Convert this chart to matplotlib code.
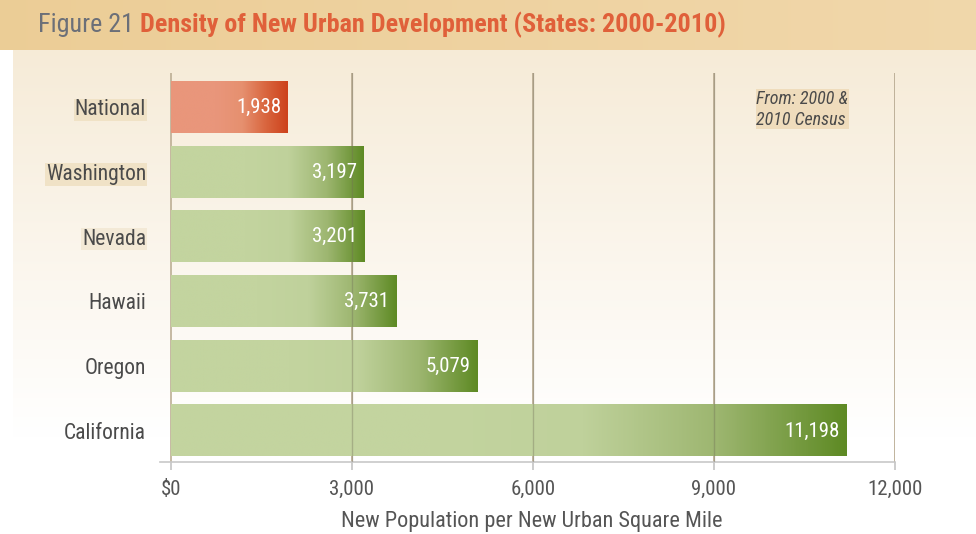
import numpy as np
import matplotlib
matplotlib.use("Agg")
import matplotlib.pyplot as plt
from matplotlib.colors import LinearSegmentedColormap
from matplotlib import font_manager

# ---- data ----
categories = ["National", "Washington", "Nevada", "Hawaii", "Oregon", "California"]
values = [1938, 3197, 3201, 3731, 5079, 11198]
xticks = [0, 3000, 6000, 9000, 12000]
xtick_labels = ["$0", "3,000", "6,000", "9,000", "12,000"]
title_prefix = "Figure 21 "
title_main = "Density of New Urban Development (States: 2000-2010)"
xlabel = "New Population per New Urban Square Mile"
note = "From: 2000 &\n2010 Census"

names = {f.name for f in font_manager.fontManager.ttflist}
cond = None
for cand in ["Roboto Condensed", "Archivo Narrow", "PT Sans Narrow", "Fira Sans Condensed",
             "Liberation Sans Narrow", "Roboto"]:
    if cand in names:
        cond = cand
        break
FONT = [cond, "DejaVu Sans"] if cond else ["DejaVu Sans"]
plt.rcParams["font.family"] = FONT

W, H = 976, 534
fig = plt.figure(figsize=(W / 100, H / 100), dpi=100)
fig.patch.set_facecolor("white")

# ---- background ----
bg = fig.add_axes([0, 0, 1, 1], zorder=-10)
bg.set_xlim(0, W)
bg.set_ylim(H, 0)
bg.axis("off")
ys = np.linspace(0, 1, 256)
top = np.array([0.965, 0.922, 0.845])
bot = np.array([1.0, 1.0, 1.0])
t = np.clip(ys / 0.8, 0, 1)[:, None]
grad = top * (1 - t) + bot * t
panel = np.repeat(grad[:, None, :], 2, axis=1)
bg.imshow(panel, extent=[13, W, H, 50], aspect="auto", interpolation="bilinear")
hdr_l = np.array([0.925, 0.805, 0.590])
hdr_r = np.array([0.945, 0.845, 0.670])
xs = np.linspace(0, 1, 256)[:, None]
hdr = (hdr_l * (1 - xs) + hdr_r * xs)[None, :, :]
hdr = np.repeat(hdr, 2, axis=0)
bg.imshow(hdr, extent=[0, W, 50, 0], aspect="auto", interpolation="bilinear")

# ---- main axes ----
ax_left, ax_right = 160 / W, 895 / W
ax_top, ax_bot = 73 / H, 462 / H
ax = fig.add_axes([ax_left, 1 - ax_bot, ax_right - ax_left, ax_bot - ax_top])
ax.patch.set_alpha(0)

grid_col = "#bcae94"
for xv in xticks:
    ax.axvline(xv, color=grid_col, lw=1.2, zorder=1)

green = LinearSegmentedColormap.from_list("g", ["#c3d49f", "#bfd19b", "#9db670", "#5e8a24"])
red = LinearSegmentedColormap.from_list("r", ["#e9967b", "#e6906f", "#d9663f", "#cd421c"])
bar_h = 0.79
for i, (cat, v) in enumerate(zip(categories, values)):
    cmap = red if cat == "National" else green
    frac = np.linspace(0, 1, 400)
    tt = np.clip((frac - 0.38) / 0.62, 0, 1) ** 1.1
    ax.imshow(tt[None, :], cmap=cmap, vmin=0, vmax=1,
              extent=[0, v, i + bar_h / 2, i - bar_h / 2],
              aspect="auto", interpolation="bilinear", zorder=2)
    ax.text(v - 110, i, f"{v:,}", ha="right", va="center", color="white",
            fontsize=15, zorder=4)
ax.set_xlim(-182, 12000)
ax.set_ylim(5.48, -0.53)

for xv in xticks[1:]:
    ax.axvline(xv, color="#6f6a55", lw=1.0, alpha=0.35, zorder=3)

ax.set_yticks(range(len(categories)))
label_bg = ["#f0e2c6", "#f0e2c6", "#f3e9d6", None, None, None]
ax.set_yticklabels(categories, fontsize=15.5, color="#4a4a4a")
for lbl, fc in zip(ax.get_yticklabels(), label_bg):
    if fc:
        lbl.set_bbox(dict(facecolor=fc, edgecolor="none", pad=0.5))
ax.tick_params(axis="y", length=0, pad=10)

ax.set_xticks(xticks)
ax.set_xticklabels(xtick_labels, fontsize=15, color="#555555")
ax.tick_params(axis="x", length=6, width=1.2, color="#c4c4c4", pad=7)
ax.set_xlabel(xlabel, fontsize=16, color="#555555", va="center")
ax.xaxis.set_label_coords((532 - 160) / (895 - 160), -0.152)

for s in ["top", "right", "left"]:
    ax.spines[s].set_visible(False)
ax.spines["bottom"].set_color("#c8c8c8")
ax.spines["bottom"].set_linewidth(1.2)

ax.text(9700, -0.27, note, ha="left", va="top", fontsize=13, style="italic",
        color="#4a4a4a", linespacing=1.2,
        bbox=dict(facecolor="#efdcbc", edgecolor="none", pad=0.5), zorder=5)

# ---- title (size fitted to reference width) ----
fs = 21
t1 = fig.text(38 / W, 1 - 25 / H, title_prefix, fontsize=fs, color="#6b6f78", va="center", ha="left")
t2 = fig.text(0, 1 - 25 / H, title_main, fontsize=fs, color="#e0603a",
              fontweight="bold", va="center", ha="left")
fig.canvas.draw()
r = fig.canvas.get_renderer()
total = t1.get_window_extent(r).width + t2.get_window_extent(r).width
fs = fs * (725 - 38) / total
t1.set_fontsize(fs)
t2.set_fontsize(fs)
fig.canvas.draw()
t2.set_x(t1.get_window_extent(r).x1 / W)

fig.savefig("out.png", dpi=100)
